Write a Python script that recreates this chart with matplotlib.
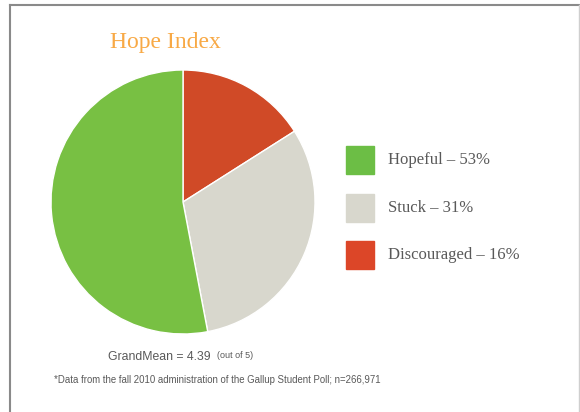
import matplotlib
matplotlib.use('Agg')
import matplotlib.pyplot as plt
from matplotlib.patches import Rectangle

# Data
labels = ['Discouraged', 'Stuck', 'Hopeful']
values = [16, 31, 53]
colors = ['#D04A27', '#D8D7CD', '#78C043']

legend_labels = ['Hopeful', 'Stuck', 'Discouraged']
legend_values = [53, 31, 16]
legend_colors = ['#6CBE45', '#D8D7CD', '#DC4628']

W, H = 580, 412
fig = plt.figure(figsize=(W / 100, H / 100), dpi=100)
ax = fig.add_axes([0, 0, 1, 1])
ax.set_xlim(0, W)
ax.set_ylim(0, H)
ax.axis('off')

# frame
ax.plot([10, 10], [0, H - 5], color='#8a8a8a', lw=1.5)
ax.plot([10, W], [H - 5, H - 5], color='#8a8a8a', lw=1.5)
ax.plot([W - 1.5, W - 1.5], [0, H - 5], color='#cfcfcf', lw=1)

# pie
ax.pie(values, colors=colors, startangle=90, counterclock=False,
       center=(183, H - 202), radius=132,
       wedgeprops=dict(edgecolor='white', linewidth=1))
ax.set_xlim(0, W)
ax.set_ylim(0, H)
ax.set_aspect('auto')

ax.text(165, H - 42, 'Hope Index', ha='center', va='center',
        fontsize=17, color='#F8A945', family='Liberation Serif')

# legend
for i, (lab, val, col) in enumerate(zip(legend_labels, legend_values, legend_colors)):
    y = H - 160 - i * 47.5
    ax.add_patch(Rectangle((346, y - 14), 28, 28, color=col))
    ax.text(388, y, f'{lab} \u2013 {val}%', ha='left', va='center',
            fontsize=12, color='#595959', family='Liberation Serif')

ax.text(108, H - 357, 'GrandMean = 4.39', ha='left', va='center',
        fontsize=8.8, color='#595959', family='Liberation Sans')
ax.text(217, H - 356, '(out of 5)', ha='left', va='center',
        fontsize=6.5, color='#595959', family='Liberation Sans')
ax.text(54, H - 380,
        '*Data from the fall 2010 administration of the Gallup Student Poll; n=266,971',
        ha='left', va='center', fontsize=6.95, color='#595959',
        family='Liberation Sans')

fig.savefig('out.png', dpi=100)
